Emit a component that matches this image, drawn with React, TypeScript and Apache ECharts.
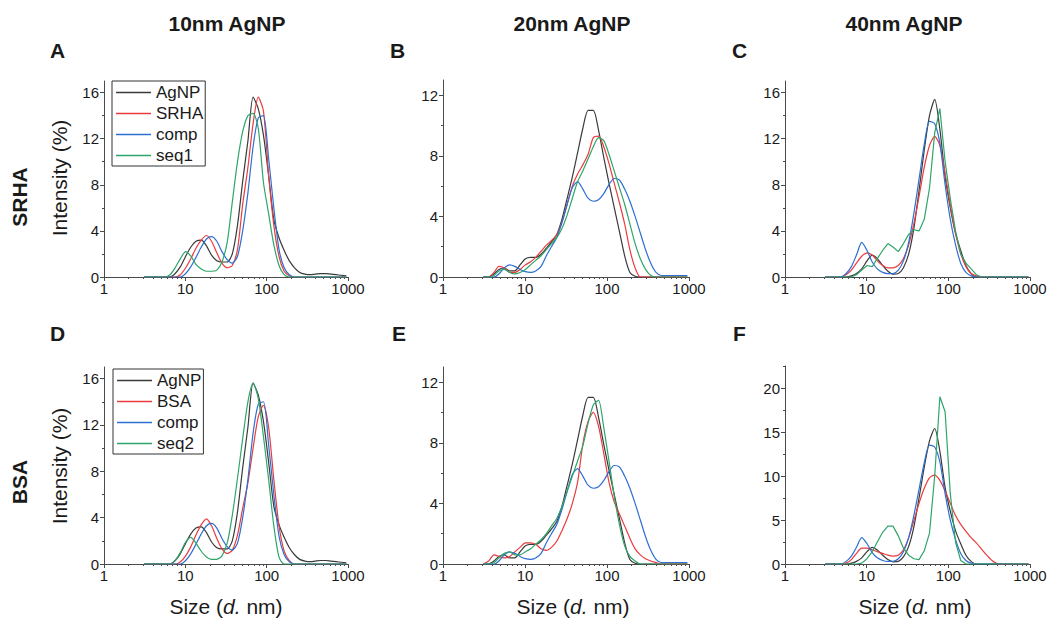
import React, { useEffect, useRef } from 'react';
import * as echarts from 'echarts';

// Size bins (nm), shared by every series
const sizes = [3.1, 3.6, 4.2, 4.8, 5.6, 6.5, 7.5, 8.7, 10.1, 11.7, 13.5, 15.7, 18.2, 21.0, 24.4, 28.2, 32.7, 37.8, 43.8, 50.7, 58.8, 68.1, 78.8, 91.3, 105.7, 122.4, 141.8, 164.2, 190.1, 220.2, 255.0, 295.3, 342.0, 396.1, 458.7, 531.2, 615.1, 712.4, 825.0, 955.4];

// 10 nm AgNP
const agnp10 = [0, 0, 0, 0, 0, 0, 0.3, 0.9, 1.8, 2.6, 3.1, 3.2, 2.7, 1.9, 1.4, 1.3, 1.3, 2.0, 4.5, 8.3, 11.8, 15.6, 14.6, 12.3, 8.8, 5.0, 3.4, 2.3, 1.4, 0.8, 0.4, 0.25, 0.2, 0.25, 0.3, 0.3, 0.25, 0.2, 0.15, 0.1];
const srha10 = [0, 0, 0, 0, 0, 0, 0, 0.2, 0.8, 1.6, 2.5, 3.2, 3.6, 3.1, 2.1, 1.2, 0.8, 1.0, 2.4, 6.3, 9.5, 13.3, 15.6, 14.4, 8.8, 4.5, 1.8, 0.5, 0.1, 0, 0, 0, 0, 0, 0, 0, 0, 0, 0, 0];
const comp10 = [0, 0, 0, 0, 0, 0, 0, 0, 0.3, 0.9, 1.7, 2.6, 3.3, 3.5, 3.1, 2.2, 1.5, 1.2, 1.8, 4.0, 7.3, 11.3, 13.8, 14.0, 10.3, 6.0, 2.4, 0.8, 0.2, 0, 0, 0, 0, 0, 0, 0, 0, 0, 0, 0];
const seq1_10 = [0, 0, 0, 0, 0, 0.2, 0.8, 1.6, 2.2, 1.8, 1.1, 0.7, 0.5, 0.5, 0.6, 1.3, 3.0, 6.5, 10.0, 12.6, 14.0, 14.2, 12.9, 8.2, 5.5, 2.8, 1.0, 0.2, 0, 0, 0, 0, 0, 0, 0, 0, 0, 0, 0, 0];
const bsa10 = [0, 0, 0, 0, 0, 0, 0, 0.2, 0.7, 1.5, 2.5, 3.4, 3.9, 3.3, 2.2, 1.3, 0.9, 1.2, 2.5, 4.8, 7.0, 10.0, 12.7, 13.7, 11.8, 7.3, 3.3, 1.1, 0.3, 0, 0, 0, 0, 0, 0, 0, 0, 0, 0, 0];
const seq2_10 = [0, 0, 0, 0, 0, 0, 0.3, 1.0, 1.9, 2.3, 1.8, 1.1, 0.6, 0.4, 0.4, 0.7, 1.8, 4.2, 7.4, 10.8, 14.0, 15.6, 14.3, 11.0, 7.3, 3.3, 0.6, 0, 0, 0, 0, 0, 0, 0, 0, 0, 0, 0, 0, 0];

// 20 nm AgNP
const agnp20 = [0, 0, 0.2, 0.5, 0.6, 0.4, 0.4, 0.8, 1.2, 1.3, 1.3, 1.5, 1.9, 2.3, 2.8, 3.8, 5.2, 6.6, 8.2, 9.8, 11.0, 11.0, 9.7, 7.9, 6.2, 4.6, 3.0, 1.4, 0.3, 0.05, 0, 0, 0, 0, 0, 0, 0, 0, 0, 0];
const comp20 = [0, 0, 0, 0.2, 0.6, 0.8, 0.7, 0.5, 0.35, 0.3, 0.4, 0.7, 1.4, 2.0, 2.6, 3.6, 4.8, 5.9, 6.3, 5.8, 5.2, 5.0, 5.1, 5.5, 6.1, 6.5, 6.4, 5.8, 5.0, 4.0, 2.9, 1.8, 0.9, 0.3, 0.1, 0.1, 0.1, 0.1, 0.1, 0.1];
const srha20 = [0, 0, 0.3, 0.7, 0.6, 0.3, 0.3, 0.5, 0.8, 1.0, 1.3, 1.7, 2.1, 2.4, 2.8, 3.6, 4.8, 6.0, 6.8, 7.4, 8.1, 9.2, 9.3, 8.6, 7.5, 6.2, 4.9, 3.5, 1.8, 0.6, 0, 0, 0, 0, 0, 0, 0, 0, 0, 0];
const seq1_20 = [0, 0, 0.1, 0.4, 0.5, 0.3, 0.2, 0.3, 0.5, 0.8, 1.1, 1.4, 1.8, 2.2, 2.6, 3.2, 4.1, 5.2, 6.3, 7.0, 7.8, 8.6, 9.2, 9.0, 8.1, 7.0, 5.9, 4.8, 3.5, 2.2, 1.2, 0.5, 0.1, 0, 0, 0, 0, 0, 0, 0];
const bsa20 = [0, 0.2, 0.6, 0.5, 0.4, 0.5, 0.8, 1.1, 1.4, 1.4, 1.3, 1.0, 0.9, 1.1, 1.5, 2.2, 3.0, 4.0, 5.4, 7.9, 9.4, 10.0, 9.1, 7.3, 5.4, 4.1, 3.3, 2.5, 1.7, 1.0, 0.6, 0.35, 0.2, 0.1, 0, 0, 0, 0, 0, 0];
const seq2_20 = [0, 0, 0.1, 0.4, 0.7, 0.8, 0.6, 0.6, 0.8, 1.0, 1.3, 1.6, 2.0, 2.5, 3.0, 3.8, 4.8, 5.8, 6.8, 7.8, 9.3, 10.5, 10.8, 9.0, 6.8, 4.5, 2.6, 1.2, 0.5, 0.2, 0, 0, 0, 0, 0, 0, 0, 0, 0, 0];

// 40 nm AgNP
const agnp40 = [0, 0, 0, 0, 0, 0.1, 0.3, 0.7, 1.4, 1.9, 1.6, 1.0, 0.5, 0.25, 0.3, 0.8, 2.0, 4.2, 7.5, 11.0, 14.0, 15.4, 12.8, 8.7, 6.0, 3.8, 2.3, 1.0, 0.3, 0, 0, 0, 0, 0, 0, 0, 0, 0, 0, 0];
const comp40 = [0, 0, 0, 0, 0.3, 0.9, 1.9, 3.0, 2.3, 1.3, 0.7, 0.4, 0.3, 0.3, 0.6, 1.4, 3.0, 5.5, 8.5, 11.5, 13.5, 13.3, 11.6, 8.0, 5.0, 2.8, 1.2, 0.4, 0.1, 0, 0, 0, 0, 0, 0, 0, 0, 0, 0, 0];
const srha40 = [0, 0, 0, 0, 0.2, 0.6, 1.2, 1.8, 2.1, 1.9, 1.4, 1.0, 0.8, 0.8, 1.0, 1.6, 2.8, 4.6, 7.0, 9.5, 11.4, 12.2, 11.4, 9.0, 6.2, 3.8, 2.0, 0.9, 0.3, 0.1, 0, 0, 0, 0, 0, 0, 0, 0, 0, 0];
const seq1_40 = [0, 0, 0, 0, 0, 0, 0.2, 0.6, 1.0, 0.9, 1.6, 2.3, 2.9, 2.6, 2.2, 2.9, 3.7, 4.1, 4.0, 5.0, 7.7, 12.5, 14.6, 10.0, 6.8, 4.0, 2.0, 1.2, 0.7, 0.2, 0, 0, 0, 0, 0, 0, 0, 0, 0, 0];
const bsa40 = [0, 0, 0, 0, 0.1, 0.5, 1.2, 1.8, 1.8, 1.6, 1.4, 1.2, 1.0, 0.9, 1.0, 1.6, 3.0, 4.9, 6.9, 8.6, 9.8, 10.1, 9.5, 8.3, 6.9, 5.5, 4.5, 3.7, 3.0, 2.4, 1.7, 1.0, 0.4, 0.05, 0, 0, 0, 0, 0, 0];
const seq2_40 = [0, 0, 0, 0, 0, 0, 0, 0.1, 0.6, 1.4, 2.5, 3.6, 4.3, 4.3, 3.2, 1.8, 1.0, 0.6, 0.5, 1.5, 3.5, 10.0, 19.0, 17.3, 8.0, 2.5, 0.4, 0, 0, 0, 0, 0, 0, 0, 0, 0, 0, 0, 0, 0];

// tick labels
const xTicks = [1, 10, 100, 1000];
const xMinorTicks = [2, 3, 4, 5, 6, 7, 8, 9, 20, 30, 40, 50, 60, 70, 80, 90, 200, 300, 400, 500, 600, 700, 800, 900];
const columnTitles = ['10nm AgNP', '20nm AgNP', '40nm AgNP'];
const rowTitles = ['SRHA', 'BSA'];
const legendA = ['AgNP', 'SRHA', 'comp', 'seq1'];
const legendD = ['AgNP', 'BSA', 'comp', 'seq2'];

const FONT = '"Liberation Sans", Arial, Helvetica, sans-serif';
const AXIS = '#4a4a4a';
const TEXT = '#1a1a1a';
const COLORS: Record<string, string> = {
  AgNP: '#3a3a3a',
  SRHA: '#ea3b3d',
  BSA: '#ea3b3d',
  comp: '#2d6fd2',
  seq1: '#2ea56a',
  seq2: '#2ea56a',
};
const JAGGED = new Set(['seq1_40', 'seq2_40']);

type Panel = {
  letter: string; left: number; top: number; width: number; height: number;
  yMax: number; yStep: number; names: string[]; data: number[][]; keys: string[];
};

const panels: Panel[] = [
  { letter: 'A', left: 104, top: 81, width: 244, height: 196, yMax: 17, yStep: 4, names: legendA, data: [agnp10, srha10, comp10, seq1_10], keys: ['agnp10', 'srha10', 'comp10', 'seq1_10'] },
  { letter: 'B', left: 443, top: 80, width: 246, height: 197, yMax: 13, yStep: 4, names: legendA, data: [agnp20, srha20, comp20, seq1_20], keys: ['agnp20', 'srha20', 'comp20', 'seq1_20'] },
  { letter: 'C', left: 785, top: 81, width: 245, height: 196, yMax: 17, yStep: 4, names: legendA, data: [agnp40, srha40, comp40, seq1_40], keys: ['agnp40', 'srha40', 'comp40', 'seq1_40'] },
  { letter: 'D', left: 104, top: 367, width: 244, height: 197, yMax: 17, yStep: 4, names: legendD, data: [agnp10, bsa10, comp10, seq2_10], keys: ['agnp10', 'bsa10', 'comp10', 'seq2_10'] },
  { letter: 'E', left: 443, top: 367, width: 246, height: 197, yMax: 13, yStep: 4, names: legendD, data: [agnp20, bsa20, comp20, seq2_20], keys: ['agnp20', 'bsa20', 'comp20', 'seq2_20'] },
  { letter: 'F', left: 785, top: 366, width: 245, height: 198, yMax: 22.5, yStep: 5, names: legendD, data: [agnp40, bsa40, comp40, seq2_40], keys: ['agnp40', 'bsa40', 'comp40', 'seq2_40'] },
];

const letterPos = [[50, 50], [390, 50], [732, 50], [50, 333], [392, 333], [733, 333]];
const headerX = [227, 572, 904];
const sizeTitleX = [226, 573, 915];

function majorTicks(max: number, step: number) {
  const out: number[] = [];
  for (let v = 0; v <= max + 1e-9; v += step) out.push(v);
  return out;
}
function minorTicks(max: number, step: number) {
  const out: number[] = [];
  for (let v = step / 2; v <= max + 1e-9; v += step) out.push(v);
  return out;
}

function buildOption() {
  const grid = panels.map((p) => ({ left: p.left, top: p.top, width: p.width, height: p.height, containLabel: false }));
  const xAxis: any[] = [];
  const yAxis: any[] = [];
  panels.forEach((p, i) => {
    xAxis.push({
      type: 'log', logBase: 10, gridIndex: i, min: 1, max: 1000, position: 'bottom',
      axisLine: { show: true, lineStyle: { color: AXIS, width: 1 } },
      axisTick: { show: true, length: 4, customValues: xTicks, lineStyle: { color: AXIS } },
      axisLabel: { customValues: xTicks, formatter: (v: number) => String(Math.round(v)), fontSize: 15, fontFamily: FONT, color: TEXT, margin: 4 },
      splitLine: { show: false },
    });
    xAxis.push({
      type: 'log', logBase: 10, gridIndex: i, min: 1, max: 1000, position: 'bottom',
      axisLine: { show: false },
      axisTick: { show: true, length: 2, customValues: xMinorTicks, lineStyle: { color: AXIS } },
      axisLabel: { show: false },
      splitLine: { show: false },
    });
    const maj = majorTicks(p.yMax, p.yStep);
    yAxis.push({
      type: 'value', gridIndex: i, min: 0, max: p.yMax, position: 'left',
      axisLine: { show: true, lineStyle: { color: AXIS, width: 1 } },
      axisTick: { show: true, length: 4, customValues: maj, lineStyle: { color: AXIS } },
      axisLabel: { customValues: maj, fontSize: 15, fontFamily: FONT, color: TEXT, margin: 5 },
      splitLine: { show: false },
    });
    yAxis.push({
      type: 'value', gridIndex: i, min: 0, max: p.yMax, position: 'left',
      axisLine: { show: false },
      axisTick: { show: true, length: 2, customValues: minorTicks(p.yMax, p.yStep), lineStyle: { color: AXIS } },
      axisLabel: { show: false },
      splitLine: { show: false },
    });
  });

  const series: any[] = [];
  panels.forEach((p, i) => {
    p.names.forEach((name, j) => {
      const vals = p.data[j];
      series.push({
        type: 'line', name,
        xAxisIndex: 2 * i, yAxisIndex: 2 * i,
        data: sizes.map((s, k) => [s, vals[k]]),
        showSymbol: false, symbol: 'none',
        smooth: JAGGED.has(p.keys[j]) ? false : 0.25,
        lineStyle: { color: COLORS[name], width: 1.2 },
        itemStyle: { color: COLORS[name] },
        emphasis: { disabled: true },
        z: 2 + j,
      });
    });
  });

  const legendBase = {
    orient: 'vertical', itemWidth: 35, itemHeight: 1.5, itemGap: 0, icon: 'rect',
    padding: [1, 2, 0, 4], borderColor: '#333', borderWidth: 1, backgroundColor: '#fff',
    textStyle: { fontSize: 17, fontFamily: FONT, color: TEXT, lineHeight: 21 },
    selectedMode: false,
  };
  const legend = [
    { ...legendBase, data: legendA, left: 112, top: 81 },
    { ...legendBase, data: legendD, left: 113, top: 369 },
  ];

  const graphic: any[] = [];
  columnTitles.forEach((t, i) => {
    graphic.push({ type: 'text', x: headerX[i], y: 23, style: { text: t, fontSize: 21, fontWeight: 'bold', fontFamily: FONT, fill: TEXT, align: 'center', verticalAlign: 'middle' } });
  });
  panels.forEach((p, i) => {
    graphic.push({ type: 'text', x: letterPos[i][0], y: letterPos[i][1], style: { text: p.letter, fontSize: 21, fontWeight: 'bold', fontFamily: FONT, fill: TEXT, align: 'left', verticalAlign: 'middle' } });
  });
  const rowY = [197, 482];
  rowTitles.forEach((t, i) => {
    graphic.push({ type: 'text', x: 19, y: rowY[i], rotation: Math.PI / 2, style: { text: t, fontSize: 21, fontWeight: 'bold', fontFamily: FONT, fill: TEXT, align: 'center', verticalAlign: 'middle' } });
  });
  [178, 466].forEach((y) => {
    graphic.push({ type: 'text', x: 59, y, rotation: Math.PI / 2, style: { text: 'Intensity (%)', fontSize: 21, fontFamily: FONT, fill: TEXT, align: 'center', verticalAlign: 'middle' } });
  });
  sizeTitleX.forEach((x) => {
    graphic.push({
      type: 'text', x, y: 606,
      style: {
        text: 'Size ({i|d.} nm)', fontSize: 21, fontFamily: FONT, fill: TEXT, align: 'center', verticalAlign: 'middle',
        rich: { i: { fontStyle: 'italic', fontSize: 21, fontFamily: FONT, fill: TEXT } },
      },
    });
  });

  return { animation: false, backgroundColor: '#ffffff', grid, xAxis, yAxis, series, legend, graphic };
}

export default function App() {
  const ref = useRef<HTMLDivElement>(null);
  useEffect(() => {
    if (!ref.current) return;
    const chart = echarts.init(ref.current, undefined, { renderer: 'svg' });
    chart.setOption(buildOption() as any);
    return () => chart.dispose();
  }, []);
  return <div ref={ref} style={{ position: 'absolute', left: 0, top: 0, width: 1050, height: 619, background: '#fff' }} />;
}
